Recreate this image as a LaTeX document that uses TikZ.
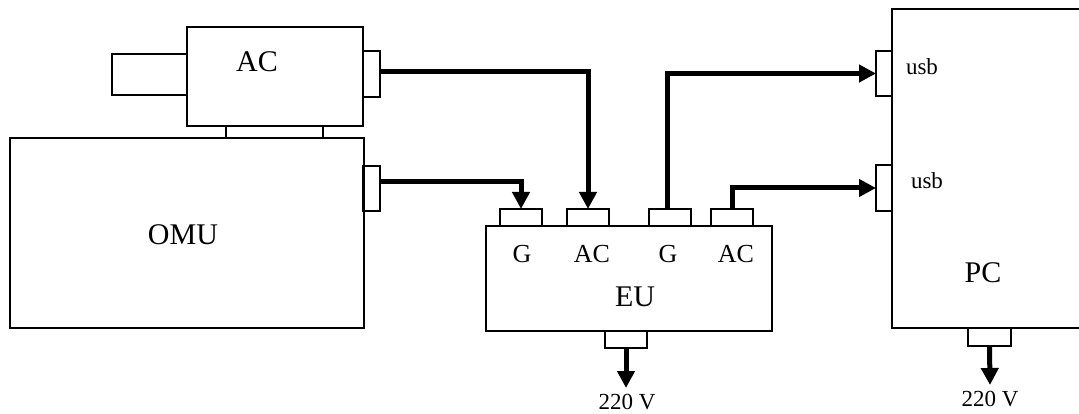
\documentclass[tikz,border=0pt]{standalone}
\usepackage{fontspec}
\setmainfont{Liberation Serif}
\usetikzlibrary{arrows.meta,calc}
\tikzset{
  box/.style={draw, line width=1.6pt, inner sep=0pt, outer sep=0pt, anchor=north west},
  wire/.style={line width=5pt, -{Triangle[length=17pt,width=17pt]}},
  lbl/.style={inner sep=0pt, font=\fontsize{26}{28}\selectfont},
  biglbl/.style={inner sep=0pt, font=\fontsize{30}{32}\selectfont},
  smalllbl/.style={inner sep=0pt, font=\fontsize{23}{25}\selectfont},
}
\begin{document}
\begin{tikzpicture}[x=1pt,y=-1pt]
\useasboundingbox (0,0) rectangle (1079,414);
\clip (0,0) rectangle (1079,414);
% AC unit
\node[box, minimum width=75pt, minimum height=41pt] (acstub) at (112,54) {};
\node[box, fill=white, minimum width=176pt, minimum height=99pt] (ac) at (187,27) {};
\node[box, minimum width=17pt, minimum height=46pt] (acc) at (363,51) {};
\node[box, minimum width=97pt, minimum height=12pt] (mount) at (226,126) {};
\node[biglbl] (aclbl) at (257,62) {AC};
% OMU
\node[box, minimum width=354pt, minimum height=190pt] (omu) at (10,138) {};
\node[box, minimum width=17pt, minimum height=45pt] (omuc) at (363,166) {};
\node[biglbl] (omulbl) at (183,235) {OMU};
% EU
\node[box, minimum width=286pt, minimum height=105pt] (eu) at (486,226) {};
\node[box, minimum width=42pt, minimum height=17pt] (g1) at (500,209) {};
\node[box, minimum width=42pt, minimum height=17pt] (ac1) at (567,209) {};
\node[box, minimum width=42pt, minimum height=17pt] (g2) at (649,209) {};
\node[box, minimum width=42pt, minimum height=17pt] (ac2) at (711,209) {};
\node[box, minimum width=42pt, minimum height=17pt] (eup) at (605,331) {};
\node[lbl] (g1l) at (522,254) {G};
\node[lbl] (ac1l) at (592,254) {AC};
\node[lbl] (g2l) at (668,254) {G};
\node[lbl] (ac2l) at (736,254) {AC};
\node[biglbl] (eul) at (635,297) {EU};
\node[smalllbl] (v1) at (627,402) {220 V};
% PC
\node[box, minimum width=220pt, minimum height=319pt] (pc) at (892,9) {};
\node[box, minimum width=16pt, minimum height=45pt] (usb1) at (876,51) {};
\node[box, minimum width=16pt, minimum height=46pt] (usb2) at (876,165) {};
\node[box, minimum width=43pt, minimum height=18pt] (pcp) at (968,328) {};
\node[smalllbl] (u1) at (922,67) {usb};
\node[smalllbl] (u2) at (927,181) {usb};
\node[biglbl] (pcl) at (983,273) {PC};
\node[smalllbl] (v2) at (990,399) {220 V};
% wires
\draw[wire] ([yshift=7pt]omuc.east) -| (g1.north);
\draw[wire] ([yshift=2pt]acc.east) -| (ac1.north);
\draw[wire] ([xshift=-3pt]g2.north) |- (usb1.west);
\draw[wire] (ac2.north) |- (usb2.west);
\coordinate (e1) at (626,388);
\coordinate (e2) at (990,385);
\draw[wire] (eup.south) -- (e1);
\draw[wire] (pcp.south) -- (e2);
\end{tikzpicture}
\end{document}
